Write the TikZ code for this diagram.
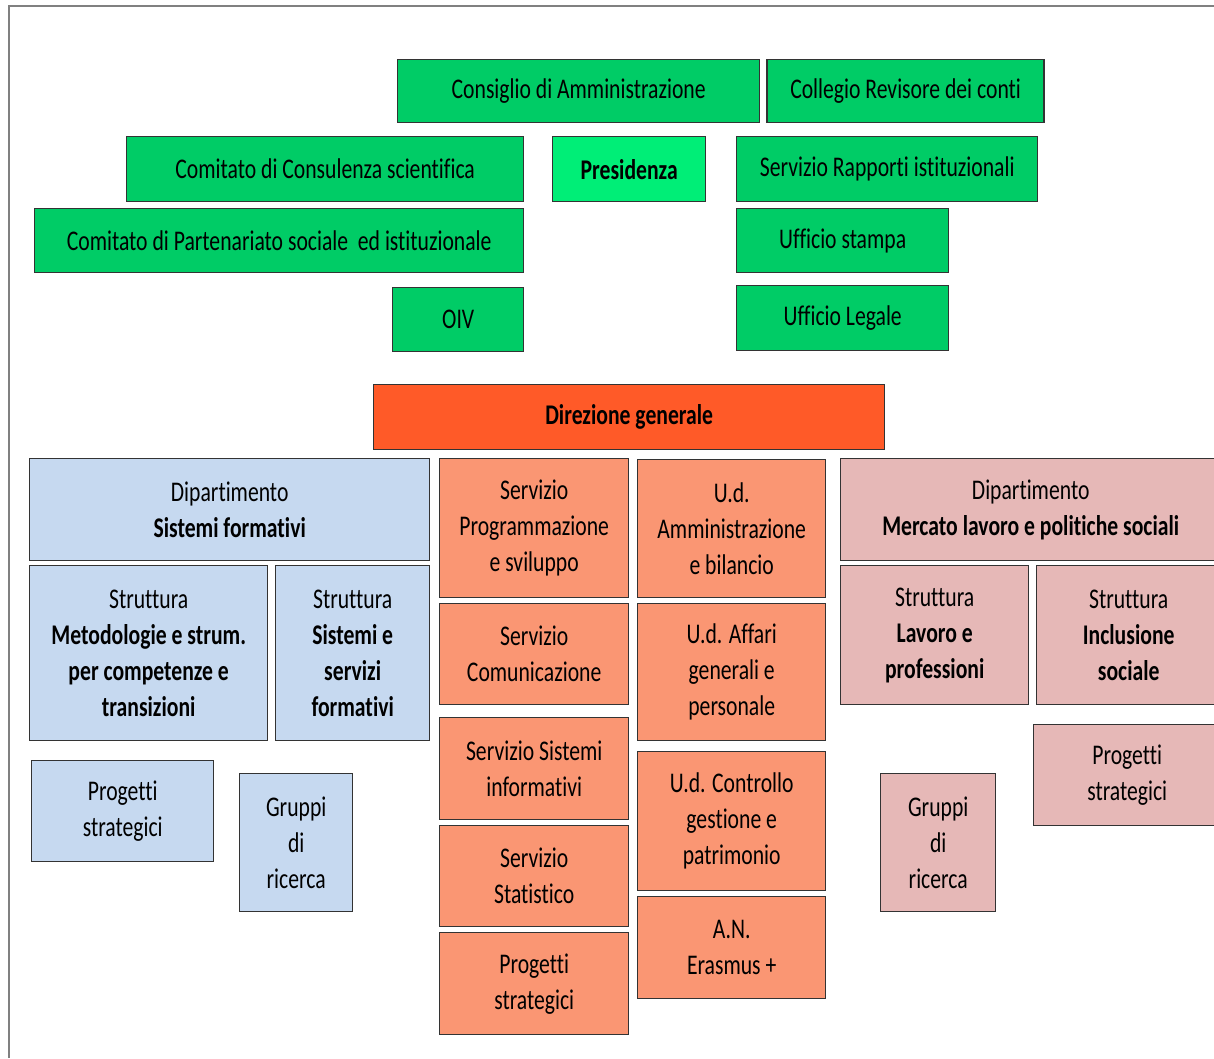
\documentclass[tikz,border=0pt]{standalone}
\usepackage{fontspec}
\setmainfont{Carlito}[FakeStretch=0.76, Ligatures=NoCommon]
\usepackage{tikz}
\usepackage{xcolor}
\usetikzlibrary{positioning}

\definecolor{cdagreen}{HTML}{00CC66}
\definecolor{preslight}{HTML}{00EE77}
\definecolor{dgred}{HTML}{FF5A28}
\definecolor{servorange}{HTML}{FA9673}
\definecolor{sfblue}{HTML}{C6D9F0}
\definecolor{mlpink}{HTML}{E6B8B7}
\definecolor{boxline}{HTML}{333333}

\begin{document}
\begin{tikzpicture}[
  x=1pt, y=-1pt, node distance=6pt,
  box/.style={rectangle, draw=boxline, line width=1.4pt, inner sep=0pt, align=center, anchor=north west,
    font=\fontsize{28.5}{36}\selectfont},
  wh/.style 2 args={minimum width=#1pt, minimum height=#2pt},
  greenbox/.style={box, fill=cdagreen},
  presbox/.style={box, fill=preslight, font=\fontsize{28.5}{36}\selectfont\bfseries},
  dgbox/.style={box, fill=dgred, font=\fontsize{28.5}{36}\selectfont\bfseries},
  servbox/.style={box, fill=servorange},
  bluebox/.style={box, fill=sfblue},
  pinkbox/.style={box, fill=mlpink}
]
\useasboundingbox (0,0) rectangle (1214,1058);
\clip (0,0) rectangle (1214,1058);

% frame
\draw[gray, line width=1.2pt] (9,1058) |- (1214,6);

%Organi
\node[greenbox, wh={362}{63}] (cda) at (397,59) {Consiglio di Amministrazione};
\node[greenbox, wh={277}{63}, right=6pt of cda, anchor=west] (crc) {Collegio Revisore dei conti};
\node[greenbox, wh={397}{65}] (ccs) at (126,136) {Comitato di Consulenza scientifica};
\node[presbox, wh={153}{65}] (pres) at (552,136) {Presidenza};
\node[greenbox, wh={301}{65}] (sri) at (736,136) {Servizio Rapporti istituzionali};
\node[greenbox, wh={489}{64}] (cps) at (34,208) {Comitato di Partenariato sociale\ \ ed istituzionale};
\node[greenbox, wh={212}{64}] (ustampa) at (736,208) {Ufficio stampa};
\node[greenbox, wh={131}{64}] (oiv) at (392,287) {OIV};
\node[greenbox, wh={212}{65}] (ulegale) at (736,285) {Ufficio Legale};

%Direzione
\node[dgbox, wh={511}{65}] (dg) at (373,384) {Direzione generale};

%Dipartimento Sistemi formativi
\node[bluebox, wh={400}{102}] (dsf) at (29,458) {Dipartimento\\\textbf{Sistemi formativi}};
\node[bluebox, wh={238}{175}] (smet) at (29,565) {Struttura\\\textbf{Metodologie e strum.}\\\textbf{per competenze e}\\\textbf{transizioni}};
\node[bluebox, wh={154}{175}] (ssis) at (275,565) {Struttura\\\textbf{Sistemi e}\\\textbf{servizi}\\\textbf{formativi}};
\node[bluebox, wh={182}{101}] (psb) at (31,760) {Progetti\\strategici};
\node[bluebox, wh={113}{138}] (grb) at (239,773) {Gruppi\\di\\ricerca};

%Servizi
\node[servbox, wh={189}{139}] (sps) at (439,458) {Servizio\\Programmazione\\e sviluppo};
\node[servbox, wh={189}{101}] (scom) at (439,603) {Servizio\\Comunicazione};
\node[servbox, wh={189}{102}] (ssi) at (439,717) {Servizio Sistemi\\informativi};
\node[servbox, wh={189}{101}] (sstat) at (439,825) {Servizio\\Statistico};
\node[servbox, wh={189}{102}] (pso) at (439,932) {Progetti\\strategici};

%Unita dirigenziali
\node[servbox, wh={188}{138}] (uda) at (637,459) {U.d.\\Amministrazione\\e bilancio};
\node[servbox, wh={188}{137}] (udaff) at (637,603) {U.d. Affari\\generali e\\personale};
\node[servbox, wh={188}{139}] (udc) at (637,751) {U.d. Controllo\\gestione e\\patrimonio};
\node[servbox, wh={188}{102}] (erasmus) at (637,896) {A.N.\\Erasmus +};

%Dipartimento Mercato lavoro
\node[pinkbox, wh={380}{102}] (dml) at (840,458) {Dipartimento\\\textbf{Mercato lavoro e politiche sociali}};
\node[pinkbox, wh={188}{139}] (slav) at (840,565) {Struttura\\\textbf{Lavoro e}\\\textbf{professioni}};
\node[pinkbox, wh={184}{139}] (sinc) at (1036,565) {Struttura\\\textbf{Inclusione}\\\textbf{sociale}};
\node[pinkbox, wh={187}{101}] (psp) at (1033,724) {Progetti\\strategici};
\node[pinkbox, wh={115}{138}] (grp) at (880,773) {Gruppi\\di\\ricerca};
\end{tikzpicture}
\end{document}
